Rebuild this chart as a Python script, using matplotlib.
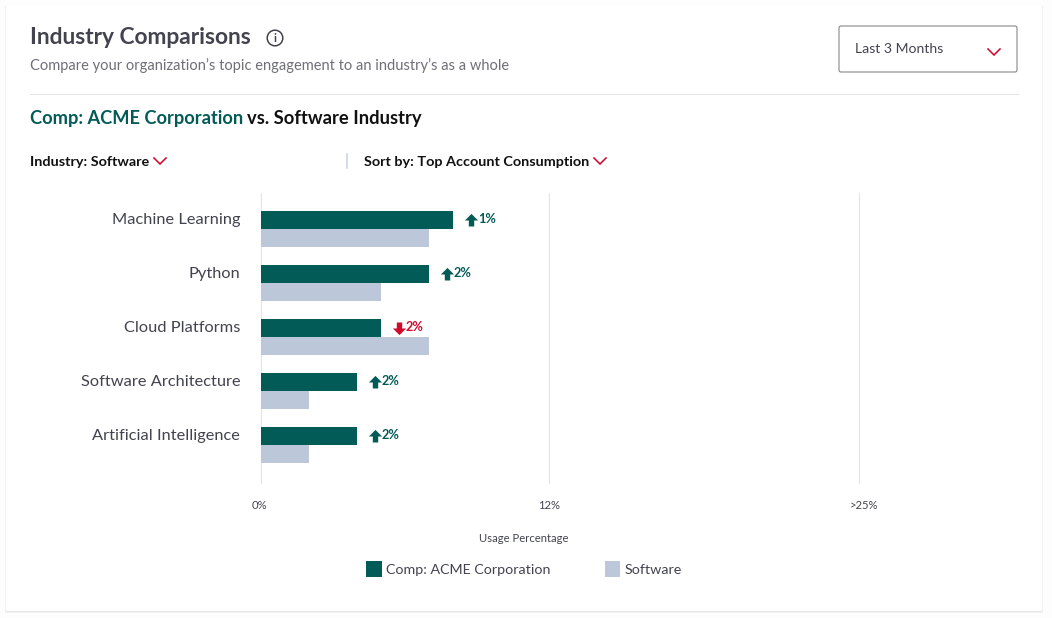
import numpy as np
import matplotlib
matplotlib.use("Agg")
import matplotlib.pyplot as plt
from matplotlib.patches import Rectangle, FancyBboxPatch, Circle
from matplotlib.path import Path
from matplotlib.scale import FuncScale
from matplotlib.transforms import ScaledTranslation

categories = ["Machine Learning", "Python", "Cloud Platforms", "Software Architecture", "Artificial Intelligence"]
company = [8, 7, 5, 4, 4]
industry = [7, 5, 7, 2, 2]
change = [1, 2, -2, 2, 2]
tick_values = [0, 12, 25]
tick_labels = ["0%", "12%", ">25%"]
tick_shift_px = [-2, 0, 5]
series_names = ["Comp: ACME Corporation", "Software"]

DARK, LIGHT, RED = "#035b58", "#bcc8d9", "#cf0a2c"
TXT, GREY, LINE = "#43434f", "#6f6f78", "#e4e4e6"
W, H = 1052, 618
plt.rcParams["font.family"] = ["Lato", "DejaVu Sans"]

fig = plt.figure(figsize=(W / 100, H / 100), dpi=100, facecolor="#fdfdfd")

# page overlay in pixel coordinates
bg = fig.add_axes([0, 0, 1, 1], zorder=0)
bg.set_xlim(0, W); bg.set_ylim(H, 0); bg.axis("off")
for off, c in ((2, "#f0f0f0"), (1, "#e6e6e6")):
    bg.add_patch(Rectangle((6 - off + 1, 6), 1036 + 2 * off - 2, 605 + off, fc=c, ec="none"))
bg.add_patch(Rectangle((6, 6), 1036, 605, fc="white", ec="none"))

bg.text(30, 37, "Industry Comparisons", fontsize=16.4, fontweight="bold", color=TXT, va="center")
bg.add_patch(Circle((275, 38), 7.8, fc="none", ec=TXT, lw=1.1))
bg.text(275, 38, "i", fontsize=8.5, color=TXT, ha="center", va="center", fontweight="bold")
bg.text(30, 66, "Compare your organization’s topic engagement to an industry’s as a whole",
        fontsize=10.56, color=GREY, va="center")
bg.plot([30, 1018], [93.5, 93.5], color=LINE, lw=0.75)

bg.text(30, 118.5, "Comp: ACME Corporation ", fontsize=13.15, fontweight="bold", color=DARK, va="center")
bg.text(247, 118.5, "vs. Software Industry", fontsize=13.2, fontweight="bold", color="#111111", va="center")
bg.text(30, 161.5, "Industry: Software", fontsize=10.4, fontweight="bold", color="#111111", va="center")
bg.text(364, 161.5, "Sort by: Top Account Consumption", fontsize=10.4, fontweight="bold", color="#111111", va="center")
bg.plot([347, 347], [154, 168], color="#c9d2e0", lw=1.1)

def chevron(x, y, w=6, h=6):
    bg.plot([x - w, x, x + w], [y - h / 2, y + h / 2, y - h / 2], color=RED, lw=1.15, solid_joinstyle="miter")
chevron(160, 161)
chevron(600, 161)
chevron(994, 52)

bg.add_patch(FancyBboxPatch((839, 26), 178, 46, boxstyle="round,pad=0,rounding_size=2", fc="white", ec="#808080", lw=0.75))
bg.text(855, 49, "Last 3 Months", fontsize=10.1, color=TXT, va="center")

# chart axes
ax = fig.add_axes([261 / W, 1 - 483 / H, (859 - 261) / W, (483 - 193) / H], zorder=1)
ax.patch.set_alpha(0)
forward = lambda v: np.interp(v, [0, 12, 25], [0, 288, 598])
inverse = lambda p: np.interp(p, [0, 288, 598], [0, 12, 25])
ax.set_xscale(FuncScale(ax.xaxis, (forward, inverse)))
ax.set_xlim(0, 25)
ax.set_ylim(4.87, -0.5)

pos = np.arange(len(categories))
ax.barh(pos, company, height=1 / 3, color=DARK, label=series_names[0], zorder=3)
ax.barh(pos + 1 / 3, industry, height=1 / 3, color=LIGHT, label=series_names[1], zorder=3)

ax.set_yticks(pos, categories)
ax.tick_params(axis="y", length=0, pad=15, labelsize=11.75, labelcolor=TXT)
for lab in ax.get_yticklabels():
    lab.set_transform(lab.get_transform() + ScaledTranslation(0, 1.5 / 100, fig.dpi_scale_trans))
ax.set_xticks(tick_values, tick_labels)
ax.tick_params(axis="x", length=0, pad=12.2, labelsize=8.1, labelcolor=TXT)
for lab, dx in zip(ax.get_xticklabels(), tick_shift_px):
    lab.set_transform(lab.get_transform() + ScaledTranslation(dx / 100, 0, fig.dpi_scale_trans))
ax.grid(axis="x", color=LINE, lw=0.8, zorder=0)
for gl in ax.get_xgridlines():
    gl.set_clip_on(False)
ax.grid(axis="y", visible=False)
for s in ax.spines.values():
    s.set_visible(False)
ax.set_axisbelow(True)
ax.set_xlabel("Usage Percentage", fontsize=8.1, color=TXT)
ax.xaxis.set_label_coords((524 - 261) / 598, 1 - (538 - 193) / 290, transform=ax.transAxes)
ax.xaxis.label.set_verticalalignment("center")

up = Path([(-1.1, 0), (-0.45, 0), (-0.45, -1), (0.45, -1), (0.45, 0), (1.1, 0), (0, 1.1), (-1.1, 0)], closed=True)
down = Path([(-1.1, 0), (-0.45, 0), (-0.45, 1), (0.45, 1), (0.45, 0), (1.1, 0), (0, -1.1), (-1.1, 0)], closed=True)
for i, (v, d) in enumerate(zip(company, change)):
    c = DARK if d > 0 else RED
    mk = ScaledTranslation(18 / 100, 0, fig.dpi_scale_trans)
    ax.plot([v], [i], marker=up if d > 0 else down, ms=9.5, color=c, mew=0, ls="none",
            transform=ax.transData + mk, clip_on=False, zorder=4)
    ax.annotate(f"{abs(d)}%", (v, i), xytext=(25, 1.5), textcoords="offset pixels", fontsize=9.2,
                fontweight="bold", color=c, va="center", ha="left")

leg = ax.legend(loc="center", bbox_to_anchor=(523.8 / W, 1 - 569 / H), bbox_transform=fig.transFigure,
                ncol=2, frameon=False, fontsize=10.3, handlelength=1.1, handleheight=1.45,
                handletextpad=0.28, columnspacing=3.8, borderpad=0, labelcolor=TXT, borderaxespad=0)

fig.savefig("out.png", dpi=100, facecolor=fig.get_facecolor())
